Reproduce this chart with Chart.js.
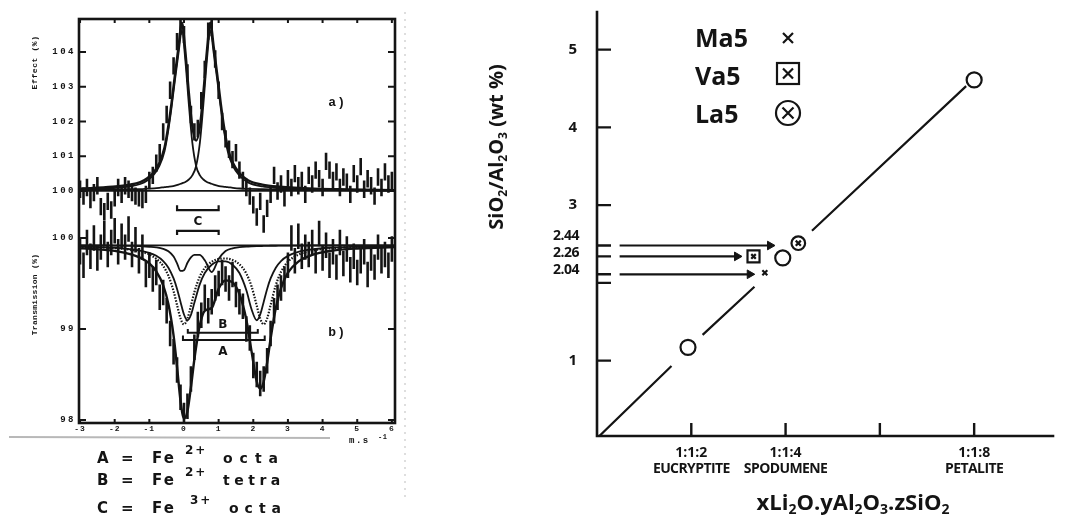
<!DOCTYPE html>
<html>
<head>
<meta charset="utf-8">
<script src="https://cdn.jsdelivr.net/npm/chart.js@4.4.1/dist/chart.umd.min.js"></script>
<style>
  html, body { margin: 0; padding: 0; background: #fff; }
  #wrap { position: relative; width: 1065px; height: 518px; overflow: hidden; background: #fff; }
  #spec { position: absolute; left: 0; top: 0; }
  #ratio { position: absolute; left: 470px; top: 0; }
</style>
</head>
<body>
<div id="wrap">
  <canvas id="spec" width="470" height="518"></canvas>
  <canvas id="ratio" width="595" height="518"></canvas>
</div>
<script>
const INK = "#141414";
const MONO = '"Liberation Mono", "DejaVu Sans Mono", monospace';
const GEO = '"DejaVu Sans", "Liberation Sans", sans-serif';
const SANS = '"Open Sans", "Liberation Sans", sans-serif';

// ---------- left: Mossbauer spectra (a = effect, b = transmission) ----------
const velocity = [-3.0, -2.9, -2.8, -2.7, -2.6, -2.5, -2.4, -2.3, -2.2, -2.1,
  -2.0, -1.9, -1.8, -1.7, -1.6, -1.5, -1.4, -1.3, -1.2, -1.1,
  -1.0, -0.9, -0.8, -0.7, -0.6, -0.5, -0.4, -0.3, -0.2, -0.1,
  0.0, 0.1, 0.2, 0.3, 0.4, 0.5, 0.6, 0.7, 0.8, 0.9,
  1.0, 1.1, 1.2, 1.3, 1.4, 1.5, 1.6, 1.7, 1.8, 1.9,
  2.0, 2.1, 2.2, 2.3, 2.4, 2.5, 2.6, 2.7, 2.8, 2.9,
  3.0, 3.1, 3.2, 3.3, 3.4, 3.5, 3.6, 3.7, 3.8, 3.9,
  4.0, 4.1, 4.2, 4.3, 4.4, 4.5, 4.6, 4.7, 4.8, 4.9,
  5.0, 5.1, 5.2, 5.3, 5.4, 5.5, 5.6, 5.7, 5.8, 5.9, 6.0];

const effectPct = [100.05, 99.85, 100.1, 99.75, 99.95, 100.15, 99.55, 99.4, 99.7, 99.45,
  99.8, 100.1, 99.9, 100.15, 100.05, 99.95, 99.85, 99.8, 99.75, 99.9,
  100.3, 100.45, 100.8, 101.1, 101.7, 102.2, 102.9, 103.6, 104.3, 104.75,
  104.5, 103.4, 102.2, 101.7, 101.8, 102.6, 103.5, 104.6, 104.7, 103.8,
  102.9, 102.0, 101.5, 101.2, 100.9, 101.1, 100.6, 100.3, 100.1, 99.85,
  99.6, 99.25, 99.7, 99.05, 99.5, 99.9, 100.45, 100.0, 100.2, 99.8,
  100.35, 100.1, 100.5, 100.15, 100.3, 99.9, 100.45, 100.2, 100.6, 100.35,
  100.1, 100.85, 100.6, 100.3, 100.55, 100.1, 100.4, 100.25, 99.9, 100.5,
  100.2, 100.7, 100.05, 100.35, 100.15, 99.85, 100.4, 100.1, 100.55, 100.2, 100.3];

const transPct = [99.85, 99.7, 99.95, 99.8, 100.0, 99.78, 99.9, 100.05, 99.82, 99.95,
  100.08, 99.85, 100.02, 99.9, 100.1, 99.82, 99.98, 99.75, 99.9, 99.6,
  99.7, 99.55, 99.62, 99.35, 99.4, 99.2, 98.95, 98.75, 98.55, 98.25,
  98.05, 98.15, 98.45, 98.8, 99.05, 99.15, 99.35, 99.2, 99.3, 99.45,
  99.5, 99.62, 99.55, 99.45, 99.6, 99.38, 99.3, 99.25, 99.0, 98.9,
  98.6, 98.5, 98.4, 98.45, 98.65, 98.95, 99.2, 99.35, 99.45, 99.55,
  99.7, 100.0, 99.75, 100.02, 99.8, 99.9, 99.82, 99.95, 99.75, 100.05,
  99.78, 99.92, 99.7, 99.85, 99.68, 99.95, 99.72, 99.88, 99.65, 99.8,
  99.62, 99.75, 99.85, 99.6, 99.78, 99.68, 99.9, 99.75, 99.82, 99.7, 99.88];

const effectErr = 0.25;
const transErr = 0.14;

// fitted curves, panel a (Fe3+ doublet)
const fitVelA = [-3.03, -2.06, -1.56, -1.26, -1.06, -0.86, -0.71, -0.56, -0.46, -0.36,
  -0.26, -0.16, -0.06, 0.04, 0.14, 0.24, 0.35, 0.46, 0.56, 0.66,
  0.76, 0.86, 0.96, 1.06, 1.16, 1.26, 1.41, 1.61, 1.86, 2.26,
  2.76, 3.76, 4.76, 6.09];
const fitEffectLine1 = [100.04, 100.08, 100.13, 100.2, 100.3, 100.48, 100.72, 101.15, 101.7, 102.4,
  103.2, 103.95, 104.62, 103.75, 102.5, 101.4, 100.72, 100.45, 100.33, 100.26,
  100.22, 100.18, 100.15, 100.13, 100.12, 100.11, 100.09, 100.07, 100.06, 100.05,
  100.04, 100.025, 100.02, 100.01];
const fitEffectLine2 = [100.025, 100.04, 100.05, 100.055, 100.065, 100.075, 100.09, 100.11, 100.12, 100.13,
  100.15, 100.18, 100.22, 100.26, 100.33, 100.45, 100.72, 101.4, 102.5, 103.75,
  104.62, 103.95, 103.2, 102.4, 101.7, 101.15, 100.72, 100.43, 100.24, 100.13,
  100.08, 100.04, 100.025, 100.015];
const fitEffectSum = [100.065, 100.12, 100.18, 100.255, 100.365, 100.555, 100.81, 101.26, 101.82, 102.53,
  103.35, 104.13, 104.84, 104.01, 102.83, 101.85, 101.45, 101.85, 102.83, 104.01,
  104.84, 104.13, 103.35, 102.53, 101.82, 101.26, 100.81, 100.5, 100.3, 100.18,
  100.12, 100.065, 100.045, 100.025];

// fitted curves, panel b (A = Fe2+ octa, B = Fe2+ tetra, C = Fe3+ octa)
const fitVelB = [-3.03, -2.0, -1.5, -1.2, -1.0, -0.8, -0.6, -0.45, -0.3, -0.2,
  -0.1, 0.0, 0.1, 0.2, 0.3, 0.45, 0.6, 0.8, 1.0, 1.2,
  1.4, 1.6, 1.8, 1.95, 2.1, 2.2, 2.3, 2.4, 2.5, 2.65,
  2.8, 3.0, 3.3, 3.7, 4.2, 5.0, 6.09];
const fitTransA = [99.905, 99.889, 99.869, 99.845, 99.82, 99.772, 99.692, 99.586, 99.415, 99.263,
  99.116, 99.051, 99.113, 99.256, 99.405, 99.571, 99.67, 99.739, 99.77, 99.775,
  99.759, 99.711, 99.609, 99.468, 99.256, 99.113, 99.051, 99.116, 99.263, 99.481,
  99.628, 99.739, 99.817, 99.862, 99.886, 99.902, 99.91];
const fitTransB = [99.906, 99.893, 99.875, 99.857, 99.837, 99.804, 99.747, 99.674, 99.556, 99.441,
  99.297, 99.159, 99.096, 99.154, 99.288, 99.485, 99.615, 99.706, 99.743, 99.743,
  99.706, 99.615, 99.426, 99.217, 99.096, 99.159, 99.297, 99.441, 99.556, 99.674,
  99.747, 99.804, 99.847, 99.875, 99.893, 99.904, 99.911];
const fitTransC = [99.918, 99.916, 99.913, 99.909, 99.904, 99.897, 99.881, 99.854, 99.796, 99.721,
  99.638, 99.646, 99.728, 99.788, 99.815, 99.814, 99.756, 99.626, 99.77, 99.857,
  99.887, 99.899, 99.906, 99.909, 99.911, 99.912, 99.913, 99.914, 99.915, 99.915,
  99.916, 99.916, 99.917, 99.918, 99.918, 99.919, 99.919];
const fitTransSum = [99.889, 99.858, 99.817, 99.771, 99.721, 99.633, 99.48, 99.274, 98.927, 98.585,
  98.211, 98.016, 98.097, 98.358, 98.668, 99.03, 99.201, 99.231, 99.443, 99.535,
  99.512, 99.385, 99.101, 98.754, 98.423, 98.344, 98.421, 98.631, 98.893, 99.23,
  99.45, 99.619, 99.741, 99.814, 99.857, 99.885, 99.9];

const effectBase = 100;
const transBase = 99.92;

const effectTicks = [100, 101, 102, 103, 104];
const transTicks = [98, 99, 100];
const velocityTicks = [-3, -2, -1, 0, 1, 2, 3, 4, 5, 6];

// doublet splitting brackets [from, to] in mm/s and their level
const bracketC = [-0.2, 1.0];
const bracketCLevels = [99.45, 98.85];
const bracketB = [0.11, 2.13];
const bracketBLevel = 98.96;
const bracketA = [-0.03, 2.33];
const bracketALevel = 98.88;

// ---------- right: SiO2/Al2O3 ratio ----------
const mineralNames = ["EUCRYPTITE", "SPODUMENE", "PETALITE"];
const mineralX = [1.93, 3.94, 8.0];
const mineralY = [1.17, 2.32, 4.61];
const sampleNames = ["Ma5", "Va5", "La5"];
const sampleX = [3.56, 3.32, 4.27];
const sampleY = [2.13, 2.34, 2.51];
const arrowFromX = 0.48;
const arrowToX = [3.67, 2.97, 3.24];
const arrowY = [2.48, 2.34, 2.11];
const levelLabels = ["2.44", "2.26", "2.04"];
const levelLabelY = [2.6, 2.38, 2.16];
const levelMarks = [2.48, 2.34, 2.11, 2.0];
const ratioTicks = [1, 3, 4, 5];
const formulaTicks = [2, 4, 6, 8];
const formulaTop = ["1:1:2", "1:1:4", "", "1:1:8"];
const formulaBottom = ["EUCRYPTITE", "SPODUMENE", "", "PETALITE"];
// trend line pieces [x0, y0, x1, y1], broken around the symbols
const trendPieces = [[0, 0, 1.58, 0.93], [2.24, 1.33, 3.34, 1.95], [4.56, 2.67, 7.83, 4.53]];

// ---------- helpers ----------
const xy = (xs, ys) => xs.map((x, i) => ({ x, y: ys[i] }));

function errorBars(xs, ys, err) {
  const pts = [];
  xs.forEach((x, i) => {
    pts.push({ x, y: ys[i] - err }, { x, y: ys[i] + err }, { x, y: null });
  });
  return pts;
}

function txt(ctx, s, x, y, font, align = "left", base = "alphabetic", spacing = 0) {
  ctx.font = font;
  ctx.textAlign = align;
  ctx.textBaseline = base;
  ctx.letterSpacing = spacing + "px";
  ctx.fillText(s, x, y);
  ctx.letterSpacing = "0px";
}

// parts: [text, 0 normal | 1 subscript | 2 superscript]
function rich(ctx, parts, x, y, size, align, family) {
  const fontFor = (k) => `bold ${k ? Math.round(size * 0.62) : size}px ${family}`;
  let w = 0;
  parts.forEach(([t, k]) => { ctx.font = fontFor(k); w += ctx.measureText(t).width; });
  let cx = align === "center" ? x - w / 2 : align === "right" ? x - w : x;
  ctx.textAlign = "left";
  ctx.textBaseline = "alphabetic";
  parts.forEach(([t, k]) => {
    ctx.font = fontFor(k);
    const dy = k === 1 ? size * 0.2 : k === 2 ? -size * 0.42 : 0;
    ctx.fillText(t, cx, y + dy);
    cx += ctx.measureText(t).width;
  });
}

const lineDs = (data, yAxisID, width, extra = {}) => Object.assign({
  type: "line", data, yAxisID, borderColor: INK, borderWidth: width,
  pointRadius: 0, spanGaps: false, fill: false
}, extra);

const bracket = (from, to, level, tick) => [
  { x: from, y: level + tick }, { x: from, y: level }, { x: to, y: level }, { x: to, y: level + tick }
];

// ---------- left chart decorations ----------
const specDecor = {
  id: "specDecor",
  afterDraw(chart) {
    const { ctx, chartArea: ca, scales: { x, yA, yB } } = chart;
    ctx.save();
    ctx.strokeStyle = INK;
    ctx.fillStyle = INK;

    ctx.lineWidth = 2.6;
    ctx.strokeRect(ca.left, ca.top, ca.right - ca.left, ca.bottom - ca.top);

    ctx.lineWidth = 2;
    ctx.beginPath();
    effectTicks.forEach((v) => {
      const py = yA.getPixelForValue(v);
      ctx.moveTo(ca.left, py); ctx.lineTo(ca.left + 7, py);
      ctx.moveTo(ca.right, py); ctx.lineTo(ca.right - 7, py);
    });
    transTicks.forEach((v) => {
      const py = yB.getPixelForValue(v);
      ctx.moveTo(ca.left, py); ctx.lineTo(ca.left + 7, py);
      ctx.moveTo(ca.right, py); ctx.lineTo(ca.right - 7, py);
    });
    velocityTicks.forEach((v) => {
      const px = x.getPixelForValue(v);
      ctx.moveTo(px, ca.top); ctx.lineTo(px, ca.top + 4);
      ctx.moveTo(px, ca.bottom); ctx.lineTo(px, ca.bottom - 4);
    });
    ctx.stroke();

    const tickFont = `bold 9px ${MONO}`;
    effectTicks.forEach((v) => txt(ctx, String(v), ca.left - 3, yA.getPixelForValue(v), tickFont, "right", "middle", 2.5));
    transTicks.forEach((v) => txt(ctx, String(v), ca.left - 3, yB.getPixelForValue(v), tickFont, "right", "middle", 2.5));
    velocityTicks.forEach((v) => txt(ctx, String(v), x.getPixelForValue(v), ca.bottom + 6, `bold 8px ${MONO}`, "center", "middle", 1));

    txt(ctx, "m.s", ca.right - 46, ca.bottom + 20, `bold 9px ${MONO}`, "left", "alphabetic", 1.5);
    txt(ctx, "-1", ca.right - 17, ca.bottom + 16, `bold 7px ${MONO}`, "left", "alphabetic", 0.5);

    ctx.save();
    ctx.translate(35, yA.getPixelForValue(103.7));
    ctx.rotate(-Math.PI / 2);
    txt(ctx, "Effect (%)", 0, 0, `bold 8px ${MONO}`, "center", "middle", 0.6);
    ctx.restore();
    ctx.save();
    ctx.translate(35, yB.getPixelForValue(99.38));
    ctx.rotate(-Math.PI / 2);
    txt(ctx, "Transmission (%)", 0, 0, `bold 8px ${MONO}`, "center", "middle", 0.3);
    ctx.restore();

    txt(ctx, "a)", x.getPixelForValue(4.42), yA.getPixelForValue(102.55), `bold 13px ${MONO}`, "center", "middle", 1);
    txt(ctx, "b)", x.getPixelForValue(4.42), yB.getPixelForValue(98.96), `bold 13px ${MONO}`, "center", "middle", 1);
    txt(ctx, "C", x.getPixelForValue(0.4), yA.getPixelForValue(99.12), `bold 12px ${GEO}`, "center", "middle");
    txt(ctx, "B", x.getPixelForValue(1.12), yB.getPixelForValue(99.04), `bold 12px ${GEO}`, "center", "middle");
    txt(ctx, "A", x.getPixelForValue(1.12), yB.getPixelForValue(98.75), `bold 12px ${GEO}`, "center", "middle");

    // scan artefacts
    ctx.strokeStyle = "#b8b8b8";
    ctx.lineWidth = 2;
    ctx.beginPath(); ctx.moveTo(9, 437); ctx.lineTo(330, 438); ctx.stroke();
    ctx.strokeStyle = "#d4d4d4";
    ctx.lineWidth = 1.5;
    ctx.setLineDash([2, 5]);
    ctx.beginPath(); ctx.moveTo(405, 12); ctx.lineTo(405, 500); ctx.stroke();
    ctx.setLineDash([]);

    // site assignment key
    ctx.fillStyle = INK;
    const rows = [
      ["A", "2+", "octa", 463, 7],
      ["B", "2+", "tetra", 485, 4.5],
      ["C", "3+", "octa", 513, 6]
    ];
    rows.forEach(([site, charge, geom, base, sp]) => {
      txt(ctx, site, 97, base, `bold 15px ${GEO}`);
      txt(ctx, "=", 121, base, `bold 15px ${GEO}`);
      txt(ctx, "Fe", 152, base, `bold 15px ${GEO}`, "left", "alphabetic", 2);
      txt(ctx, charge, site === "C" ? 190 : 185, base - 9, `bold 12px ${GEO}`, "left", "alphabetic", 2);
      txt(ctx, geom, site === "C" ? 229 : 223, base, `bold 14px ${GEO}`, "left", "alphabetic", sp);
    });
    ctx.restore();
  }
};

new Chart(document.getElementById("spec"), {
  type: "line",
  data: {
    datasets: [
      lineDs(errorBars(velocity, effectPct, effectErr), "yA", 2.6),
      lineDs(errorBars(velocity, transPct, transErr), "yB", 2.6),
      lineDs([{ x: -3.03, y: effectBase }, { x: 6.09, y: effectBase }], "yA", 1.8),
      lineDs(xy(fitVelA, fitEffectLine1), "yA", 1.8, { cubicInterpolationMode: "monotone" }),
      lineDs(xy(fitVelA, fitEffectLine2), "yA", 1.8, { cubicInterpolationMode: "monotone" }),
      lineDs(xy(fitVelA, fitEffectSum), "yA", 2.4, { cubicInterpolationMode: "monotone" }),
      lineDs([{ x: -3.03, y: transBase }, { x: 6.09, y: transBase }], "yB", 1.8),
      lineDs(xy(fitVelB, fitTransC), "yB", 1.8, { cubicInterpolationMode: "monotone" }),
      lineDs(xy(fitVelB, fitTransA), "yB", 2.2, { cubicInterpolationMode: "monotone", borderDash: [1.5, 1.5] }),
      lineDs(xy(fitVelB, fitTransB), "yB", 1.8, { cubicInterpolationMode: "monotone" }),
      lineDs(xy(fitVelB, fitTransSum), "yB", 2.4, { cubicInterpolationMode: "monotone" }),
      lineDs(bracket(bracketC[0], bracketC[1], bracketCLevels[0], 0.14), "yA", 2.2),
      lineDs(bracket(bracketC[0], bracketC[1], bracketCLevels[1], -0.12), "yA", 2.2),
      lineDs(bracket(bracketB[0], bracketB[1], bracketBLevel, 0.04), "yB", 2),
      lineDs(bracket(bracketA[0], bracketA[1], bracketALevel, 0.05), "yB", 2)
    ]
  },
  options: {
    responsive: false,
    animation: false,
    devicePixelRatio: 1,
    layout: { padding: { left: 79, right: 75, top: 19, bottom: 95 } },
    plugins: { legend: { display: false }, tooltip: { enabled: false } },
    scales: {
      x: { type: "linear", min: -3.03, max: 6.09, display: false },
      yA: { type: "linear", min: 93.32, max: 104.95, display: false },
      yB: { type: "linear", min: 97.967, max: 102.407, display: false }
    }
  },
  plugins: [specDecor]
});

// ---------- right chart ----------
function trendData() {
  const pts = [];
  trendPieces.forEach(([x0, y0, x1, y1]) => {
    pts.push({ x: x0, y: y0 }, { x: x1, y: y1 }, { x: x1, y: null });
  });
  return pts;
}

const ratioDecor = {
  id: "ratioDecor",
  afterDraw(chart) {
    const { ctx, chartArea: ca, scales: { x, y } } = chart;
    ctx.save();
    ctx.strokeStyle = INK;
    ctx.fillStyle = INK;
    ctx.lineWidth = 2.6;
    ctx.beginPath();
    ctx.moveTo(ca.left, ca.top);
    ctx.lineTo(ca.left, ca.bottom);
    ctx.lineTo(ca.right, ca.bottom);
    ctx.stroke();

    ctx.lineWidth = 2.4;
    ctx.beginPath();
    ratioTicks.concat(levelMarks).forEach((v) => {
      const py = y.getPixelForValue(v);
      ctx.moveTo(ca.left, py); ctx.lineTo(ca.left + 14, py);
    });
    formulaTicks.forEach((v) => {
      const px = x.getPixelForValue(v);
      ctx.moveTo(px, ca.bottom); ctx.lineTo(px, ca.bottom - 13);
    });
    ctx.stroke();

    ratioTicks.forEach((v) => txt(ctx, String(v), ca.left - 20, y.getPixelForValue(v), `bold 15px ${SANS}`, "right", "middle"));
    levelLabels.forEach((s, i) => txt(ctx, s, ca.left - 18, y.getPixelForValue(levelLabelY[i]), `bold 14px ${SANS}`, "right", "middle", -0.5));
    formulaTicks.forEach((v, i) => {
      const px = x.getPixelForValue(v);
      txt(ctx, formulaTop[i], px, ca.bottom + 21, `bold 14px ${SANS}`, "center", "alphabetic");
      txt(ctx, formulaBottom[i], px, ca.bottom + 37, `bold 14px ${SANS}`, "center", "alphabetic", -0.6);
    });

    rich(ctx, [["xLi", 0], ["2", 1], ["O.yAl", 0], ["2", 1], ["O", 0], ["3", 1], [".zSiO", 0], ["2", 1]],
      383, 510, 22, "center", SANS);

    ctx.save();
    ctx.translate(33, 147);
    ctx.rotate(-Math.PI / 2);
    rich(ctx, [["SiO", 0], ["2", 1], ["/Al", 0], ["2", 1], ["O", 0], ["3", 1], [" (wt %)", 0]], 0, 0, 20, "center", SANS);
    ctx.restore();

    // key
    const keyX = 225, markX = 318;
    const keyBase = [47, 85, 123];
    sampleNames.forEach((name, i) => txt(ctx, name, keyX, keyBase[i], `bold 25px ${SANS}`));
    ctx.lineWidth = 2.2;
    const cross = (cx, cy, r) => {
      ctx.beginPath();
      ctx.moveTo(cx - r, cy - r); ctx.lineTo(cx + r, cy + r);
      ctx.moveTo(cx + r, cy - r); ctx.lineTo(cx - r, cy + r);
      ctx.stroke();
    };
    cross(markX, 38, 5);
    ctx.strokeRect(markX - 11, 63, 22, 21);
    cross(markX, 73.5, 5);
    ctx.beginPath(); ctx.arc(markX, 113, 12, 0, Math.PI * 2); ctx.stroke();
    cross(markX, 113, 5.5);
    ctx.restore();
  }
};

const pointDs = (xs, ys, style, radius, extra = {}) => Object.assign({
  type: "line", data: xy(xs, ys), showLine: false, pointStyle: style, pointRadius: radius,
  pointBorderColor: INK, pointBackgroundColor: "#fff", pointBorderWidth: 2.2
}, extra);

const arrowSets = arrowY.map((yv, i) => ({
  type: "line",
  data: [{ x: arrowFromX, y: yv }, { x: arrowToX[i], y: yv }],
  borderColor: INK, borderWidth: 2.2,
  pointStyle: "triangle", pointRotation: 90, pointRadius: [0, 5],
  pointBackgroundColor: INK, pointBorderColor: INK, pointBorderWidth: 1
}));

new Chart(document.getElementById("ratio"), {
  type: "line",
  data: {
    datasets: [
      pointDs(mineralX, mineralY, "circle", 7.5),
      pointDs([sampleX[0]], [sampleY[0]], "crossRot", 3.5),
      pointDs([sampleX[1]], [sampleY[1]], "crossRot", 3.2),
      pointDs([sampleX[1]], [sampleY[1]], "rect", 8.5),
      pointDs([sampleX[2]], [sampleY[2]], "crossRot", 3.6),
      pointDs([sampleX[2]], [sampleY[2]], "circle", 6.8),
      ...arrowSets,
      { type: "line", data: trendData(), borderColor: INK, borderWidth: 2.2, pointRadius: 0, spanGaps: false }
    ]
  },
  options: {
    responsive: false,
    animation: false,
    devicePixelRatio: 1,
    layout: { padding: { left: 127, right: 0, top: 5, bottom: 82 } },
    plugins: { legend: { display: false }, tooltip: { enabled: false } },
    scales: {
      x: { type: "linear", min: 0, max: 9.7, display: false },
      y: { type: "linear", min: 0.03, max: 5.5, display: false }
    }
  },
  plugins: [ratioDecor]
});
</script>
</body>
</html>
